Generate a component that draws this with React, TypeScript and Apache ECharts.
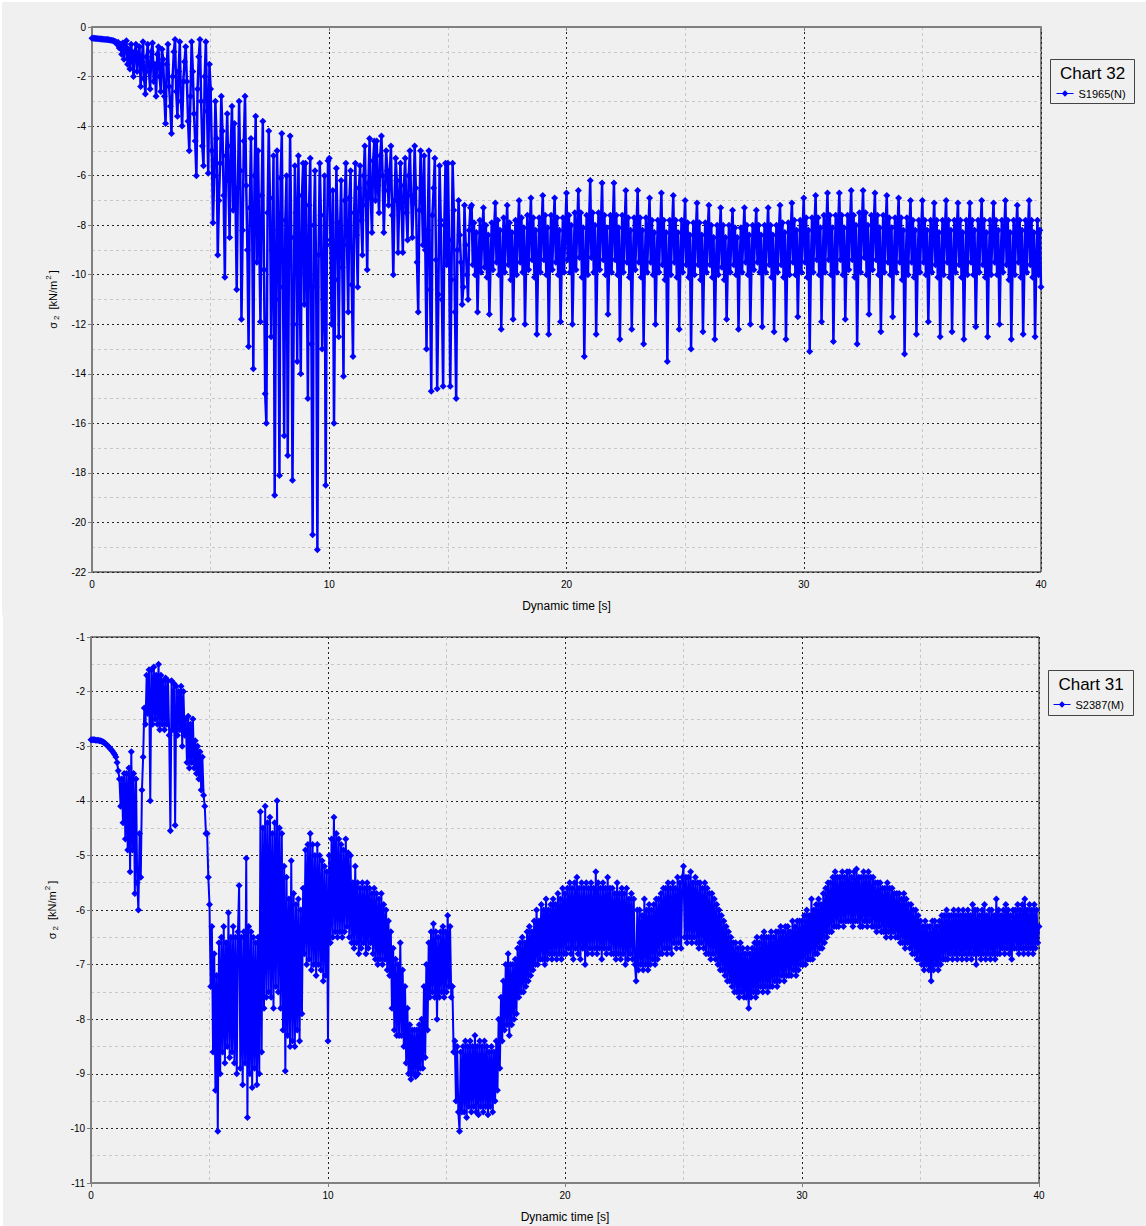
import React, { useEffect, useRef } from "react";
import * as echarts from "echarts";

// sampling step of the dynamic time axis [s]
const TIME_STEP = 0.05;

// Chart 32 – S1965(N), sigma2 [kN/m2]; two rows per second
const chart32Values: number[] = [
  -0.45, -0.45, -0.45, -0.46, -0.46, -0.47, -0.47, -0.48, -0.48, -0.49,
  -0.49, -0.5, -0.5, -0.5, -0.51, -0.52, -0.53, -0.54, -0.56, -0.58,
  -0.6, -0.7, -0.62, -0.85, -0.7, -1.1, -0.65, -1.3, -0.8, -0.55,
  -1.5, -0.9, -1.7, -0.7, -1.2, -2.0, -1.0, -0.7, -1.8, -1.1,
  -0.8, -2.4, -1.4, -0.6, -2.1, -2.7, -1.2, -0.7, -1.8, -2.5,
  -1.0, -0.65, -2.2, -1.5, -2.8, -1.1, -0.8, -2.0, -2.6, -0.9,
  -1.3, -2.8, -3.9, -1.5, -0.7, -2.4, -3.2, -4.3, -2.0, -1.0,
  -0.5, -2.6, -3.6, -1.8, -0.6, -3.0, -4.0, -2.2, -1.4, -0.8,
  -2.2, -3.8, -5.0, -2.8, -0.6, -1.8, -3.5, -4.6, -6.0, -2.5,
  -1.2, -0.5, -3.0, -4.8, -5.6, -2.0, -0.6, -3.4, -5.9, -1.5,
  -2.5, -5.0, -7.9, -6.0, -3.0, -4.5, -9.2, -7.0, -5.5, -2.8,
  -4.2, -6.8, -10.1, -5.2, -3.5, -6.2, -8.5, -4.8, -3.2, -7.4,
  -3.9, -7.0, -10.6, -6.5, -3.0, -5.8, -11.8, -8.2, -4.6, -2.8,
  -6.4, -9.0, -12.9, -7.3, -4.5, -8.0, -13.8, -6.0, -3.6, -9.5,
  -5.0, -8.6, -11.9, -6.8, -3.8, -9.8, -14.8, -16.0, -7.5, -4.2,
  -6.9, -12.5, -9.0, -5.2, -18.9, -11.0, -5.0, -8.2, -18.1, -6.1,
  -4.3, -10.5, -16.5, -7.8, -6.0, -17.3, -9.6, -4.4, -8.5, -18.3,
  -12.0, -5.6, -7.5, -13.5, -5.2, -9.9, -14.0, -6.8, -5.5, -11.2,
  -5.5, -9.5, -15.0, -7.2, -5.3, -12.8, -20.5, -8.0, -5.8, -10.5,
  -21.1, -9.2, -5.5, -7.6, -13.0, -11.0, -6.0, -18.5, -8.8, -5.4,
  -5.3, -8.6, -12.0, -6.6, -16.0, -10.2, -5.7, -7.9, -12.5, -8.5,
  -6.2, -9.7, -14.1, -7.0, -5.5, -8.8, -11.5, -6.9, -5.8, -10.4,
  -13.3, -7.5, -5.5, -8.4, -10.5, -6.5, -5.6, -7.8, -9.2, -6.0,
  -4.8, -7.2, -9.8, -6.3, -4.5, -6.9, -8.3, -5.4, -4.6, -7.0,
  -4.6, -6.4, -7.5, -5.2, -4.4, -6.0, -8.3, -6.6, -5.0, -5.8,
  -7.2, -6.0, -4.8, -7.6, -10.0, -7.0, -5.3, -6.2, -9.1, -7.0,
  -5.5, -7.3, -9.1, -6.4, -5.3, -7.5, -8.6, -6.0, -5.0, -6.8,
  -8.5, -7.1, -4.8, -6.5, -9.5, -11.5, -7.4, -5.0, -6.6, -8.8,
  -5.2, -9.0, -13.0, -8.2, -5.0, -10.6, -14.7, -7.6, -6.5, -5.3,
  -9.4, -14.6, -10.8, -5.6, -7.8, -11.0, -14.5, -8.0, -5.5, -9.6,
  -5.5, -8.6, -14.5, -10.2, -5.5, -7.4, -11.5, -15.0, -9.0, -7.0,
  -8.4, -9.5, -11.2, -10.5, -7.2, -8.8, -10.0, -11.0, -8.2, -7.3,
  -7.2, -9.6, -7.9, -10.0, -8.3, -11.5, -9.4, -7.8, -9.9, -8.2,
  -7.3, -9.7, -8.0, -10.1, -8.4, -11.6, -9.5, -7.9, -9.8, -8.1,
  -7.1, -9.5, -7.8, -10.0, -8.2, -12.2, -9.6, -7.7, -9.9, -8.3,
  -7.2, -9.6, -7.9, -10.2, -8.3, -11.8, -9.4, -7.8, -10.0, -8.2,
  -7.0, -9.5, -7.7, -9.9, -8.1, -12.0, -9.5, -7.6, -9.8, -8.2,
  -6.9, -9.4, -7.7, -10.1, -8.2, -12.4, -9.6, -7.7, -9.9, -8.1,
  -6.8, -9.4, -7.6, -10.0, -8.1, -12.4, -9.5, -7.6, -9.8, -8.0,
  -6.9, -9.5, -7.7, -10.0, -8.2, -11.9, -9.4, -7.7, -9.9, -8.1,
  -6.7, -9.4, -7.6, -9.9, -8.0, -12.0, -9.5, -7.5, -9.8, -8.1,
  -6.6, -9.3, -7.5, -10.1, -8.1, -13.3, -9.6, -7.6, -10.0, -8.0,
  -6.2, -9.3, -7.5, -9.9, -8.0, -12.4, -9.4, -7.5, -9.8, -8.0,
  -6.3, -9.4, -7.6, -10.0, -8.1, -11.6, -9.5, -7.6, -9.9, -8.1,
  -6.3, -9.4, -7.6, -10.0, -8.1, -12.6, -9.5, -7.6, -9.9, -8.1,
  -6.6, -9.5, -7.7, -10.1, -8.2, -12.2, -9.4, -7.7, -9.8, -8.1,
  -6.6, -9.5, -7.7, -10.1, -8.2, -12.8, -9.6, -7.7, -9.9, -8.2,
  -6.9, -9.5, -7.8, -10.0, -8.3, -12.0, -9.5, -7.8, -9.9, -8.2,
  -6.7, -9.6, -7.8, -10.2, -8.3, -13.5, -9.7, -7.8, -10.0, -8.2,
  -6.8, -9.5, -7.8, -10.1, -8.3, -12.2, -9.5, -7.8, -9.9, -8.2,
  -7.0, -9.6, -7.9, -10.1, -8.4, -13.0, -9.6, -7.9, -10.0, -8.3,
  -7.1, -9.6, -7.9, -10.2, -8.4, -12.3, -9.5, -7.9, -9.9, -8.3,
  -7.2, -9.6, -8.0, -10.1, -8.5, -12.6, -9.6, -8.0, -10.0, -8.4,
  -7.3, -9.7, -8.0, -10.2, -8.5, -11.8, -9.5, -8.0, -9.9, -8.4,
  -7.4, -9.6, -8.1, -10.0, -8.5, -12.2, -9.5, -8.1, -9.9, -8.4,
  -7.3, -9.5, -8.0, -10.0, -8.4, -12.0, -9.4, -8.0, -9.8, -8.3,
  -7.4, -9.5, -8.0, -9.9, -8.4, -12.1, -9.5, -8.0, -9.9, -8.4,
  -7.3, -9.6, -8.0, -10.1, -8.4, -12.3, -9.5, -8.0, -9.9, -8.3,
  -7.2, -9.6, -7.9, -10.1, -8.3, -12.6, -9.6, -7.9, -10.0, -8.3,
  -7.1, -9.5, -7.8, -10.0, -8.2, -11.7, -9.4, -7.8, -9.9, -8.2,
  -6.9, -9.5, -7.7, -10.1, -8.2, -13.1, -9.6, -7.7, -9.9, -8.1,
  -6.8, -9.4, -7.7, -10.0, -8.1, -11.9, -9.5, -7.6, -9.9, -8.1,
  -6.7, -9.4, -7.6, -10.0, -8.1, -12.7, -9.5, -7.6, -9.9, -8.0,
  -6.7, -9.4, -7.6, -10.0, -8.1, -11.8, -9.4, -7.6, -9.8, -8.0,
  -6.6, -9.4, -7.6, -10.1, -8.0, -12.8, -9.5, -7.5, -9.9, -8.0,
  -6.6, -9.3, -7.5, -10.0, -8.0, -11.6, -9.4, -7.6, -9.8, -8.0,
  -6.7, -9.4, -7.6, -10.0, -8.1, -12.3, -9.5, -7.6, -9.9, -8.1,
  -6.8, -9.5, -7.7, -10.0, -8.1, -11.7, -9.4, -7.7, -9.9, -8.1,
  -6.9, -9.5, -7.7, -10.2, -8.2, -13.2, -9.6, -7.7, -10.0, -8.2,
  -7.0, -9.5, -7.8, -10.1, -8.2, -12.4, -9.5, -7.8, -9.9, -8.2,
  -7.0, -9.5, -7.8, -10.0, -8.2, -11.9, -9.4, -7.8, -9.9, -8.2,
  -7.1, -9.6, -7.8, -10.1, -8.3, -12.5, -9.5, -7.8, -10.0, -8.2,
  -7.0, -9.5, -7.8, -10.1, -8.2, -12.3, -9.5, -7.8, -9.9, -8.2,
  -7.1, -9.6, -7.8, -10.1, -8.3, -12.6, -9.6, -7.8, -10.0, -8.2,
  -7.1, -9.5, -7.8, -10.0, -8.2, -12.1, -9.5, -7.8, -9.9, -8.2,
  -7.0, -9.6, -7.8, -10.1, -8.3, -12.5, -9.5, -7.8, -10.0, -8.2,
  -7.1, -9.5, -7.8, -10.0, -8.2, -12.0, -9.5, -7.8, -9.9, -8.2,
  -7.0, -9.6, -7.8, -10.2, -8.3, -12.6, -9.6, -7.8, -10.0, -8.2,
  -7.2, -9.5, -7.8, -10.1, -8.2, -12.4, -9.5, -7.8, -9.9, -8.2,
  -7.0, -9.6, -7.8, -10.1, -8.3, -12.5, -9.5, -7.8, -10.0, -8.2,
  -10.5,
];

// Chart 31 – S2387(M), sigma2 [kN/m2]; two rows per second
const chart31Values: number[] = [
  -2.88, -2.88, -2.88, -2.88, -2.89, -2.89, -2.89, -2.9, -2.9, -2.91,
  -2.92, -2.93, -2.95, -2.97, -2.99, -3.01, -3.04, -3.06, -3.09, -3.12,
  -3.15, -3.2, -3.3, -3.45, -3.6, -4.1, -3.6, -4.4, -3.5, -4.7,
  -3.5, -4.9, -3.4, -5.3, -3.1, -4.9, -3.5, -5.7, -3.6, -5.5,
  -6.0, -4.6, -5.4, -3.8, -3.2, -2.3, -2.6, -1.7, -2.4, -1.6,
  -4.0, -1.6, -2.6, -1.55, -2.5, -1.7, -2.6, -1.5, -2.7, -1.7,
  -2.6, -1.8, -2.7, -1.75, -2.6, -1.8, -2.8, -4.55, -1.8, -2.7,
  -1.85, -4.45, -1.9, -2.8, -2.0, -2.7, -1.9, -3.0, -2.0, -2.8,
  -2.5, -3.3, -2.45, -3.4, -2.6, -3.3, -2.5, -3.4, -2.9, -3.5,
  -3.0, -3.6, -3.1, -3.8, -3.2, -3.9, -4.1, -4.6, -4.6, -5.4,
  -5.9, -7.4, -6.3, -8.6, -6.8, -9.3, -7.2, -10.05, -6.6, -9.0,
  -6.5, -8.6, -6.3, -8.8, -6.6, -8.5, -6.05, -8.7, -6.5, -8.6,
  -6.3, -8.8, -6.5, -9.0, -6.4, -5.55, -8.9, -6.5, -9.2, -6.4,
  -8.8, -5.05, -9.8, -6.3, -9.0, -6.4, -9.25, -6.5, -8.9, -6.6,
  -9.2, -6.5, -9.0, -4.2, -8.6, -4.5, -7.8, -4.1, -7.6, -4.4,
  -7.5, -4.3, -7.6, -4.6, -7.8, -4.4, -7.4, -4.0, -7.5, -4.5,
  -7.8, -4.6, -8.2, -5.2, -8.95, -5.4, -8.3, -5.8, -8.5, -5.1,
  -8.4, -5.7, -8.5, -5.9, -8.2, -5.8, -8.4, -6.0, -7.9, -5.6,
  -6.8, -4.9, -7.0, -4.8, -6.9, -4.6, -7.1, -4.8, -7.0, -5.0,
  -7.2, -4.8, -7.0, -5.0, -7.1, -5.1, -7.3, -5.2, -7.2, -5.3,
  -8.4, -5.0, -6.6, -4.7, -6.5, -4.3, -6.4, -4.6, -6.5, -4.7,
  -6.4, -4.8, -6.5, -4.9, -6.4, -4.7, -6.3, -4.95, -6.5, -5.0,
  -6.6, -5.5, -6.7, -5.2, -6.6, -5.5, -6.8, -5.6, -6.7, -5.5,
  -6.6, -5.6, -6.8, -5.5, -6.7, -5.6, -6.6, -5.7, -6.8, -5.6,
  -6.9, -5.7, -7.0, -5.8, -6.9, -5.7, -7.0, -5.9, -6.9, -6.0,
  -7.1, -6.2, -7.2, -6.4, -7.8, -6.7, -8.2, -6.9, -8.3, -7.0,
  -8.3, -6.6, -8.3, -7.1, -8.5, -7.4, -8.8, -7.8, -9.0, -8.1,
  -9.1, -8.2, -9.0, -8.2, -9.05, -8.2, -9.0, -8.1, -8.9, -8.0,
  -8.9, -7.4, -8.7, -7.0, -8.2, -6.6, -7.6, -6.4, -7.5, -6.25,
  -7.6, -6.4, -8.0, -6.5, -7.6, -6.4, -7.5, -6.3, -7.6, -6.4,
  -7.5, -6.1, -7.4, -6.3, -7.6, -7.4, -8.6, -8.4, -9.5, -8.5,
  -9.7, -10.05, -8.6, -9.7, -8.5, -9.7, -8.4, -9.8, -8.5, -9.6,
  -8.4, -9.7, -8.5, -9.6, -8.3, -9.7, -8.5, -9.75, -8.4, -9.6,
  -8.5, -9.7, -8.4, -9.6, -8.5, -9.75, -8.6, -9.6, -8.5, -9.7,
  -8.6, -9.5, -8.4, -9.3, -8.0, -8.9, -7.6, -8.4, -7.3, -8.2,
  -7.0, -8.1, -6.8, -8.3, -7.0, -8.1, -7.0, -8.0, -6.9, -7.9,
  -6.7, -7.6, -6.6, -7.5, -6.5, -7.5, -6.6, -7.4, -6.4, -7.3,
  -6.3, -7.2, -6.4, -7.1, -6.2, -7.0, -6.0, -7.0, -6.2, -6.9,
  -5.9, -6.9, -6.0, -7.0, -5.8, -6.9, -6.0, -6.8, -5.9, -6.9,
  -5.8, -6.8, -5.9, -6.9, -5.7, -6.8, -5.8, -6.9, -5.6, -6.8,
  -5.7, -6.8, -5.6, -6.7, -5.5, -6.8, -5.6, -6.9, -5.5, -6.7,
  -5.4, -6.8, -5.6, -6.9, -5.5, -6.7, -5.6, -7.0, -5.5, -6.8,
  -5.6, -6.7, -5.5, -6.8, -5.6, -6.7, -5.3, -6.8, -5.5, -6.7,
  -5.6, -6.9, -5.5, -6.7, -5.6, -6.8, -5.4, -6.7, -5.6, -6.8,
  -5.6, -6.8, -5.7, -6.9, -5.5, -6.8, -5.7, -6.9, -5.6, -6.8,
  -5.7, -7.0, -5.6, -6.9, -5.8, -6.8, -5.7, -6.9, -5.8, -7.0,
  -7.3, -6.0, -7.1, -6.0, -7.0, -6.1, -7.1, -5.8, -7.0, -6.0,
  -7.1, -5.9, -7.0, -6.0, -6.9, -5.9, -7.0, -5.8, -6.9, -5.8,
  -6.8, -5.7, -6.8, -5.6, -6.7, -5.6, -6.8, -5.5, -6.7, -5.6,
  -6.8, -5.5, -6.6, -5.6, -6.7, -5.4, -6.6, -5.5, -6.7, -5.4,
  -5.2, -6.5, -5.4, -6.6, -5.4, -6.5, -5.3, -6.6, -5.5, -6.5,
  -5.4, -6.6, -5.5, -6.7, -5.5, -6.6, -5.6, -6.7, -5.5, -6.8,
  -5.6, -6.8, -5.7, -6.9, -5.7, -6.8, -5.8, -6.9, -5.9, -7.0,
  -6.0, -7.1, -6.1, -7.1, -6.2, -7.2, -6.3, -7.3, -6.4, -7.3,
  -6.5, -7.4, -6.6, -7.5, -6.6, -7.5, -6.7, -7.6, -6.6, -7.5,
  -6.7, -7.6, -6.8, -7.6, -6.7, -7.8, -6.8, -7.6, -6.7, -7.5,
  -6.6, -7.6, -6.5, -7.5, -6.6, -7.4, -6.5, -7.5, -6.4, -7.4,
  -6.5, -7.5, -6.5, -7.4, -6.4, -7.4, -6.5, -7.3, -6.4, -7.4,
  -6.4, -7.3, -6.3, -7.2, -6.4, -7.3, -6.3, -7.2, -6.3, -7.2,
  -6.4, -7.2, -6.2, -7.1, -6.3, -7.2, -6.2, -7.1, -6.2, -7.0,
  -6.2, -7.0, -6.1, -7.0, -6.0, -6.9, -6.1, -6.9, -5.8, -6.9,
  -6.0, -6.8, -5.9, -6.8, -5.8, -6.7, -5.9, -6.7, -5.7, -6.6,
  -5.6, -6.5, -5.5, -6.4, -5.5, -6.4, -5.4, -6.3, -5.3, -6.3,
  -5.4, -6.3, -5.4, -6.2, -5.3, -6.3, -5.4, -6.2, -5.3, -6.2,
  -5.3, -6.2, -5.4, -6.3, -5.3, -6.2, -5.25, -6.2, -5.4, -6.3,
  -5.4, -6.3, -5.3, -6.2, -5.4, -6.3, -5.3, -6.2, -5.4, -6.3,
  -5.4, -6.3, -5.5, -6.4, -5.5, -6.3, -5.5, -6.4, -5.6, -6.4,
  -5.6, -6.5, -5.5, -6.4, -5.6, -6.5, -5.6, -6.4, -5.7, -6.5,
  -5.7, -6.5, -5.7, -6.6, -5.8, -6.6, -5.7, -6.7, -5.8, -6.6,
  -5.9, -6.7, -5.9, -6.8, -6.0, -6.8, -6.0, -6.9, -6.1, -6.9,
  -6.2, -7.0, -6.3, -7.1, -6.2, -7.0, -6.3, -7.1, -6.3, -7.3,
  -6.2, -7.1, -6.2, -7.0, -6.3, -7.1, -6.2, -7.0, -6.1, -6.9,
  -6.1, -6.9, -6.0, -6.9, -6.1, -6.8, -6.1, -6.9, -6.0, -6.8,
  -6.1, -6.9, -6.0, -6.8, -6.1, -6.9, -6.0, -6.8, -6.1, -6.9,
  -6.0, -6.8, -6.1, -6.9, -5.9, -6.8, -6.0, -7.0, -6.0, -6.8,
  -6.1, -6.9, -6.0, -6.8, -5.9, -6.9, -6.1, -6.8, -6.0, -6.9,
  -6.0, -6.8, -6.1, -6.9, -5.8, -6.8, -6.0, -6.8, -6.1, -6.7,
  -6.0, -6.8, -5.9, -6.7, -6.0, -6.8, -6.1, -6.9, -6.0, -6.7,
  -6.0, -6.7, -5.9, -6.8, -6.0, -6.7, -5.9, -6.8, -5.8, -6.7,
  -6.0, -6.8, -5.9, -6.7, -6.0, -6.8, -5.9, -6.7, -6.0, -6.6,
  -6.3,
];

const chart32Title = "Chart 32";
const chart31Title = "Chart 31";
const chart32Series = "S1965(N)";
const chart31Series = "S2387(M)";
const xRange = { min: 0, max: 40, interval: 10 };
const chart32YRange = { min: -22, max: 0, interval: 2 };
const chart31YRange = { min: -11, max: -1, interval: 1 };

const FONT = "'Liberation Sans', Arial, sans-serif";
const BLUE = "#0000ff";

const toPairs = (vals: number[]) =>
  vals.map((v, i) => [Math.round(i * TIME_STEP * 1000) / 1000, v]);

function xAxisCfg(gridIndex: number) {
  return {
    type: "value",
    gridIndex,
    min: xRange.min,
    max: xRange.max,
    interval: xRange.interval,
    name: "Dynamic time [s]",
    nameLocation: "middle",
    nameGap: 28,
    nameTextStyle: { fontSize: 12, color: "#000", fontFamily: FONT },
    axisLine: { show: true, lineStyle: { color: "#808080", width: 2 } },
    axisTick: { show: true, length: 4, lineStyle: { color: "#808080" } },
    axisLabel: { fontSize: 10, color: "#000", margin: 7, fontFamily: FONT },
    splitLine: { show: true, lineStyle: { color: "#222", type: [2, 3], width: 1 } },
    minorTick: { show: false, splitNumber: 2 },
    minorSplitLine: { show: true, lineStyle: { color: "#c8c8c8", type: [3, 3], width: 1 } },
  };
}

function yAxisCfg(gridIndex: number, r: { min: number; max: number; interval: number }) {
  return {
    type: "value",
    gridIndex,
    min: r.min,
    max: r.max,
    interval: r.interval,
    name: "{s|σ}{b|2}{s| [kN/m}{p|2}{s|]}",
    nameLocation: "middle",
    nameGap: 30,
    nameRotate: 90,
    nameTextStyle: {
      fontFamily: FONT,
      color: "#000",
      rich: {
        s: { fontSize: 11, lineHeight: 16, verticalAlign: "middle", fontFamily: FONT, color: "#000" },
        b: { fontSize: 8, lineHeight: 16, verticalAlign: "bottom", padding: [0, 3, 0, 2], fontFamily: FONT, color: "#000" },
        p: { fontSize: 8, lineHeight: 16, verticalAlign: "top", padding: [0, 2, 0, 1], fontFamily: FONT, color: "#000" },
      },
    },
    axisLine: { show: true, lineStyle: { color: "#808080", width: 2 } },
    axisTick: { show: true, length: 4, lineStyle: { color: "#808080" } },
    axisLabel: { fontSize: 10, color: "#000", margin: 6, fontFamily: FONT },
    splitLine: { show: true, lineStyle: { color: "#222", type: [2, 3], width: 1 } },
    minorTick: { show: false, splitNumber: 2 },
    minorSplitLine: { show: true, lineStyle: { color: "#c8c8c8", type: [3, 3], width: 1 } },
  };
}

function seriesCfg(name: string, idx: number, vals: number[], width: number) {
  return {
    type: "line",
    name,
    xAxisIndex: idx,
    yAxisIndex: idx,
    data: toPairs(vals),
    symbol: "diamond",
    symbolSize: 7,
    showSymbol: true,
    showAllSymbol: true,
    lineStyle: { color: BLUE, width },
    itemStyle: { color: BLUE },
    emphasis: { disabled: true },
    clip: true,
    z: 3,
  };
}

function legendCfg(name: string, left: number, top: number) {
  return {
    data: [name],
    left,
    top,
    padding: 0,
    itemWidth: 17,
    itemHeight: 8,
    itemGap: 0,
    lineStyle: { width: 1 },
    textStyle: { fontSize: 11, color: "#000", fontFamily: FONT },
    selectedMode: false,
    z: 5,
  };
}

function legendBox(x: number, y: number, w: number, h: number, title: string) {
  return [
    {
      type: "rect",
      shape: { x, y, width: w, height: h },
      style: { fill: "#f0f0f0", stroke: "#444", lineWidth: 1 },
      z: 1,
    },
    {
      type: "text",
      x: x + w / 2,
      y: y + 14,
      style: {
        text: title,
        fontSize: 17,
        fontFamily: FONT,
        fill: "#000",
        align: "center",
        verticalAlign: "middle",
        textAlign: "center",
        textVerticalAlign: "middle",
      },
      z: 2,
    },
  ];
}

export default function App() {
  const ref = useRef<HTMLDivElement>(null);

  useEffect(() => {
    if (!ref.current) return;
    const chart = echarts.init(ref.current, null, { renderer: "svg", width: 1146, height: 1226 });
    const option: any = {
      animation: false,
      backgroundColor: "transparent",
      grid: [
        { left: 92, top: 27, width: 949, height: 545, show: true, borderColor: "#111", borderWidth: 1, backgroundColor: "transparent", containLabel: false },
        { left: 91, top: 637, width: 948, height: 546, show: true, borderColor: "#111", borderWidth: 1, backgroundColor: "transparent", containLabel: false },
      ],
      xAxis: [xAxisCfg(0), xAxisCfg(1)],
      yAxis: [yAxisCfg(0, chart32YRange), yAxisCfg(1, chart31YRange)],
      legend: [legendCfg(chart32Series, 1056, 88), legendCfg(chart31Series, 1053, 699)],
      graphic: [
        ...legendBox(1050.5, 59.5, 84, 44, chart32Title),
        ...legendBox(1048.5, 670.5, 85, 45, chart31Title),
      ],
      series: [
        seriesCfg(chart32Series, 0, chart32Values, 2.5),
        seriesCfg(chart31Series, 1, chart31Values, 2),
      ],
    };
    chart.setOption(option);
    return () => chart.dispose();
  }, []);

  return (
    <div style={{ position: "absolute", left: 0, top: 0, width: 1146, height: 1226, background: "#ffffff" }}>
      <div style={{ position: "absolute", left: 2, top: 2, width: 1144, height: 613, background: "#f0f0f0" }} />
      <div style={{ position: "absolute", left: 3, top: 615, width: 1143, height: 611, background: "#f0f0f0" }} />
      <div ref={ref} style={{ position: "absolute", left: 0, top: 0, width: 1146, height: 1226 }} />
    </div>
  );
}
